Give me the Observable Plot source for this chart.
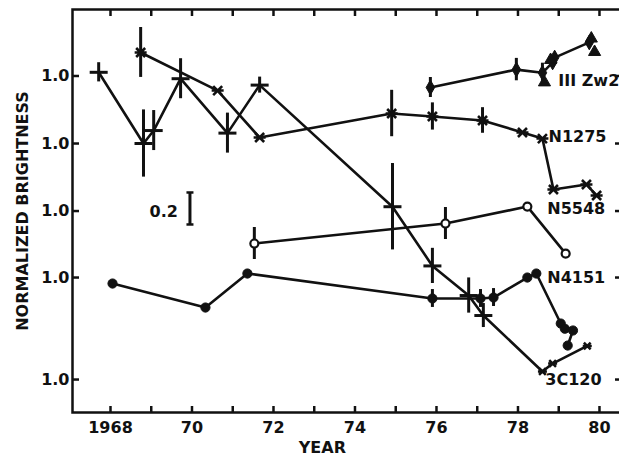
<!DOCTYPE html>
<html><head><meta charset="utf-8">
<script src="https://cdn.jsdelivr.net/npm/d3@7"></script>
<script src="https://cdn.jsdelivr.net/npm/@observablehq/plot@0.6"></script>
<style>
body{margin:0;background:#fff}
#chart svg{display:block}
</style></head><body><div id="chart"></div>
<script>
// Series names and vertical offsets (each series normalized to 1.0 at its own baseline)
const seriesNames = ["III Zw2", "N1275", "N5548", "N4151", "3C120"];
const seriesOffsets = [1.897, 1.475, 1.053, 0.6375, 0];
const labelYears = [1978.99, 1978.75, 1978.72, 1978.72, 1978.67];
const labelLevels = [0.97, 1.04, 1.015, 1.0, 0.995];

// 3C120
const c120Years  = [1967.71, 1968.81, 1969.06, 1969.72, 1970.87, 1971.66, 1974.92, 1975.9, 1976.79, 1977.15, 1978.6, 1978.85, 1979.7];
const c120Values = [2.92, 2.475, 2.556, 2.88, 2.54, 2.84, 2.08, 1.71, 1.525, 1.40, 1.05, 1.10, 1.21];
const c120Errors = [0.06, 0.21, 0.125, 0.125, 0.125, 0.05, 0.27, 0.11, 0.11, 0.075, 0, 0, 0];

// N1275
const n1275Years  = [1968.74, 1970.63, 1971.66, 1974.9, 1975.9, 1977.13, 1978.11, 1978.6, 1978.87, 1979.68, 1979.93];
const n1275Values = [1.569, 1.331, 1.0375, 1.1875, 1.169, 1.144, 1.069, 1.031, 0.7125, 0.744, 0.675];
const n1275Errors = [0.156, 0, 0, 0.145, 0.085, 0.08, 0, 0, 0, 0, 0];

// III Zw2
const zw2Years  = [1975.85, 1977.96, 1978.6, 1978.85, 1978.9, 1979.75];
const zw2Values = [0.928, 1.04, 1.02, 1.085, 1.115, 1.21];
const zw2Errors = [0.0625, 0.07, 0.06, 0, 0, 0];
const zw2ExtraYears  = [1978.65, 1978.8, 1979.8, 1979.88];
const zw2ExtraValues = [0.96, 1.10, 1.234, 1.15];

// N5548
const n5548Years  = [1971.53, 1976.22, 1978.23, 1979.17];
const n5548Values = [0.797, 0.922, 1.028, 0.734];
const n5548Errors = [0.1, 0.1, 0, 0];

// N4151
const n4151Years  = [1968.05, 1970.33, 1971.36, 1975.9, 1977.08, 1977.4, 1978.23, 1978.45, 1979.05, 1979.15, 1979.35, 1979.22];
const n4151Values = [0.9625, 0.8125, 1.025, 0.869, 0.869, 0.875, 1.0, 1.025, 0.7125, 0.68, 0.669, 0.575];
const n4151Errors = [0, 0, 0, 0.056, 0.056, 0.056, 0, 0, 0, 0, 0, 0];

// Scale bar
const scaleBarYear = 1969.95;
const scaleBarCenter = 2.069;
const scaleBarSize = 0.2;
const scaleBarLabel = "0.2";

// Axis ticks
const yearTicks = [1968, 1969, 1970, 1971, 1972, 1973, 1974, 1975, 1976, 1977, 1978, 1979, 1980];
const yearLabelTicks = [1968, 1970, 1972, 1974, 1976, 1978, 1980];
const yearLabels = ["1968", "70", "72", "74", "76", "78", "80"];
const yTickLabel = "1.0";
const xTitle = "YEAR";
const xTitleYear = 1973.2;
const yTitle = "NORMALIZED BRIGHTNESS";

function rows(name, years, values, errors) {
  const off = seriesOffsets[seriesNames.indexOf(name)];
  return years.map((yr, i) => ({series: name, year: yr, y: values[i] + off, err: errors ? errors[i] : 0}));
}
const r120 = rows("3C120", c120Years, c120Values, c120Errors);
const r1275 = rows("N1275", n1275Years, n1275Values, n1275Errors);
const rZw2 = rows("III Zw2", zw2Years, zw2Values, zw2Errors);
const rZw2x = rows("III Zw2", zw2ExtraYears, zw2ExtraValues, null);
const r5548 = rows("N5548", n5548Years, n5548Values, n5548Errors);
const r4151 = rows("N4151", n4151Years, n4151Values, n4151Errors);
const allRows = [...r120, ...r1275, ...rZw2, ...r5548, ...r4151];
const errRows = allRows.filter(d => d.err > 0);
const yTicks = seriesOffsets.map(o => o + 1.0);
const labelRows = seriesNames.map((n, i) => ({name: n, year: labelYears[i], y: labelLevels[i] + seriesOffsets[i]}));

const hbar = {draw(ctx, size) { const r = Math.sqrt(size / Math.PI); ctx.moveTo(-r, 0); ctx.lineTo(r, 0); }};
const star = {draw(ctx, size) { const r = Math.sqrt(size / Math.PI); const d = r * 0.75;
  ctx.moveTo(-d, -d); ctx.lineTo(d, d); ctx.moveTo(-d, d); ctx.lineTo(d, -d); ctx.moveTo(-r, 0); ctx.lineTo(r, 0); }};

const ink = "#111";
const chart = Plot.plot({
  width: 619,
  height: 462,
  marginLeft: 72,
  marginRight: -3,
  marginTop: 9,
  marginBottom: 50,
  style: {fontFamily: "DejaVu Sans", fontSize: "16px", fontWeight: "bold", background: "#fff", color: ink},
  x: {domain: [1967.0675, 1980.565]},
  y: {domain: [0.794, 3.3125]},
  marks: [
    Plot.frame({stroke: ink, strokeWidth: 2.5}),
    Plot.axisX({anchor: "bottom", ticks: yearLabelTicks, tickSize: 0, tickPadding: 9,
      tickFormat: d => yearLabels[yearLabelTicks.indexOf(d)], label: null}),
    Plot.axisX({anchor: "bottom", ticks: yearTicks, tickSize: -6, tickFormat: () => "", strokeWidth: 2.5, label: null}),
    Plot.axisX({anchor: "top", ticks: yearTicks, tickSize: -6, tickFormat: () => "", strokeWidth: 2.5, label: null}),
    Plot.axisY({anchor: "left", ticks: yTicks, tickSize: 0, tickPadding: 3, tickFormat: () => yTickLabel,
      label: yTitle, labelAnchor: "center", labelOffset: 56, labelArrow: "none"}),
    Plot.axisY({anchor: "left", ticks: yTicks, tickSize: -7, tickFormat: () => "", strokeWidth: 2.5, label: null}),
    Plot.axisY({anchor: "right", ticks: yTicks, tickSize: -8, tickFormat: () => "", strokeWidth: 2.5, label: null}),
    Plot.text([xTitle], {x: () => xTitleYear, frameAnchor: "bottom", dy: 40, text: d => d, fontSize: 16, fontWeight: "bold"}),
    // data lines
    Plot.line(allRows, {x: "year", y: "y", z: "series", stroke: ink, strokeWidth: 2.6}),
    // error bars
    Plot.ruleX(errRows, {x: "year", y1: d => d.y - d.err, y2: d => d.y + d.err, stroke: ink, strokeWidth: 3}),
    // markers
    Plot.dot(r120.filter(d => d.err > 0), {x: "year", y: "y", symbol: hbar, r: 9, fill: "none", stroke: ink, strokeWidth: 3}),
    Plot.dot(r120.filter(d => d.err === 0), {x: "year", y: "y", symbol: star, r: 4.5, fill: "none", stroke: ink, strokeWidth: 2.5}),
    Plot.dot(r1275, {x: "year", y: "y", symbol: star, r: 6, fill: "none", stroke: ink, strokeWidth: 2.6}),
    Plot.dot(rZw2, {x: "year", y: "y", symbol: "diamond", r: 4.5, fill: ink, stroke: ink, strokeWidth: 1}),
    Plot.dot(rZw2x, {x: "year", y: "y", symbol: "triangle", r: 4.5, fill: ink, stroke: ink, strokeWidth: 1}),
    Plot.dot(r5548, {x: "year", y: "y", symbol: "circle", r: 4, fill: "#fff", stroke: ink, strokeWidth: 2.2}),
    Plot.dot(r4151, {x: "year", y: "y", symbol: "circle", r: 4.6, fill: ink, stroke: ink, strokeWidth: 1}),
    // scale bar
    Plot.ruleX([scaleBarYear], {x: d => d, y1: () => scaleBarCenter - scaleBarSize / 2, y2: () => scaleBarCenter + scaleBarSize / 2, stroke: ink, strokeWidth: 3}),
    Plot.dot([scaleBarCenter - scaleBarSize / 2, scaleBarCenter + scaleBarSize / 2], {x: () => scaleBarYear, y: d => d, symbol: hbar, r: 3.5, fill: "none", stroke: ink, strokeWidth: 2.5}),
    Plot.text([scaleBarLabel], {x: () => scaleBarYear, y: () => scaleBarCenter, text: d => d, textAnchor: "end", dx: -12, dy: 3, fontSize: 16, fontWeight: "bold"}),
    // series labels
    Plot.text(labelRows, {x: "year", y: "y", text: "name", textAnchor: "start", fontSize: 16, fontWeight: "bold", fill: ink})
  ]
});
document.getElementById("chart").appendChild(chart);
</script></body></html>
